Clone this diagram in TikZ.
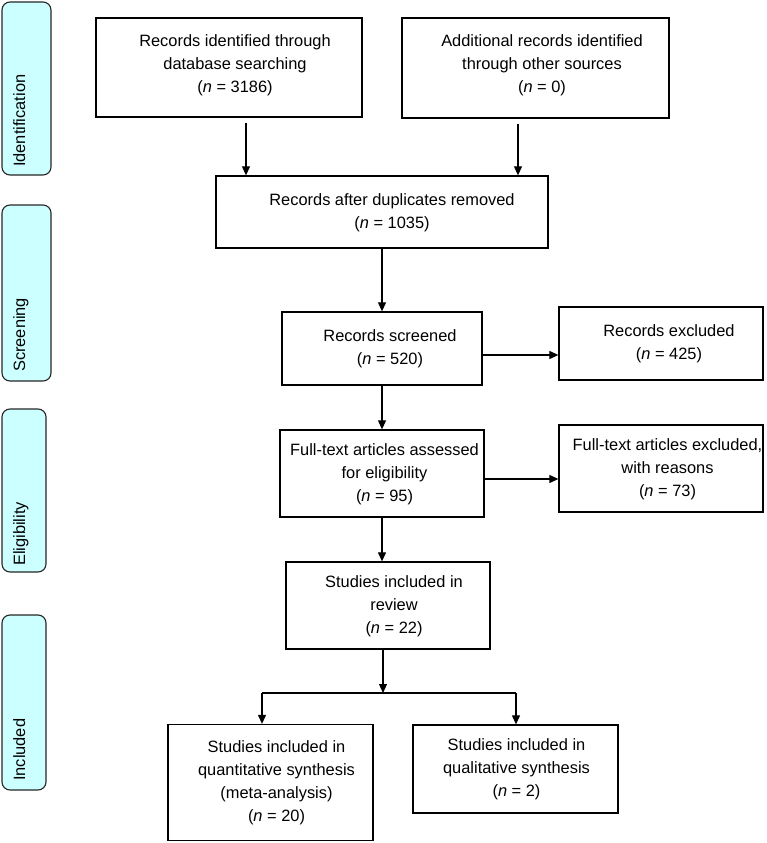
\documentclass[tikz,border=0pt]{standalone}
\usepackage{fontspec}
\setmainfont{Liberation Sans}
\usetikzlibrary{arrows.meta}
\definecolor{sidefill}{RGB}{204,255,255}
\newcommand{\bxt}[2][12pt]{\begin{tabular}{@{\hspace{#1}}c@{}}#2\end{tabular}}
\begin{document}
\begin{tikzpicture}[x=1pt,y=-1pt,
  box/.style={draw=black, line width=1.3pt, inner sep=0pt,
    font=\fontsize{16.4}{23}\selectfont},
  side/.style={draw=black!85, line width=1.1pt, fill=sidefill, rounded corners=8pt, inner sep=0pt},
  sidetext/.style={rotate=90, anchor=base west, inner sep=0pt,
    font=\fontsize{16.4}{20}\selectfont},
  arr/.style={line width=1.1pt, -{Triangle[length=9pt,width=8pt]}},
  ln/.style={line width=1.1pt}]
\useasboundingbox (0,0) rectangle (767,843);

% side phase labels
\node[side, minimum width=49pt, minimum height=173pt] (sid) at (26.5,88.5) {};
\node[side, minimum width=49pt, minimum height=176pt] (sscr) at (26.5,293) {};
\node[side, minimum width=44pt, minimum height=163pt] (selg) at (24,490.5) {};
\node[side, minimum width=44pt, minimum height=175pt] (sinc) at (24,702.5) {};
\node[sidetext] (tid) at (25,167) {Identification};
\node[sidetext] (tscr) at (25,372) {Screening};
\node[sidetext] (telg) at (25,566) {Eligibility};
\node[sidetext] (tinc) at (25,781) {Included};

% boxes
\node[box, minimum width=266pt, minimum height=99pt] (b1) at (229,67.5)
  {\bxt{Records identified through\\database searching\\(\textit{n} = 3186)\\[6pt]}};
\node[box, minimum width=267pt, minimum height=100pt] (b2) at (535.5,68)
  {\bxt[13pt]{Additional records identified\\through other sources\\(\textit{n} = 0)\\[6pt]}};
\node[box, minimum width=332pt, minimum height=72pt] (b3) at (382,212)
  {\bxt[20pt]{Records after duplicates removed\\(\textit{n} = 1035)}};
\node[box, minimum width=200pt, minimum height=73pt] (b4) at (382,348.5)
  {\bxt[16pt]{Records screened\\(\textit{n} = 520)}};
\node[box, minimum width=204pt, minimum height=73pt] (b5) at (661,343.5)
  {\bxt[16pt]{Records excluded\\(\textit{n} = 425)}};
\node[box, minimum width=204pt, minimum height=87pt] (b6) at (382,473.5)
  {\bxt[5pt]{Full-text articles assessed\\for eligibility\\(\textit{n} = 95)}};
\node[box, minimum width=204pt, minimum height=87pt] (b7) at (661,468.5)
  {\bxt[13pt]{Full-text articles excluded,\\with reasons\\(\textit{n} = 73)}};
\node[box, minimum width=204pt, minimum height=87pt] (b8) at (388,605.5)
  {\bxt{Studies included in\\review\\(\textit{n} = 22)}};
\node[box, minimum width=205pt, minimum height=116pt] (b9) at (270.5,782.5)
  {\bxt{Studies included in\\quantitative synthesis\\(meta-analysis)\\(\textit{n} = 20)}};
\node[box, minimum width=205pt, minimum height=88pt] (b10) at (515.5,769)
  {\bxt[2pt]{Studies included in\\qualitative synthesis\\(\textit{n} = 2)}};

% connectors
\coordinate (a1) at ([xshift=17pt,yshift=-5pt]b1.south);
\coordinate (a2) at ([xshift=-17.5pt,yshift=-5pt]b2.south);
\draw[arr] (a1) -- (a1 |- b3.north);
\draw[arr] (a2) -- (a2 |- b3.north);
\draw[arr] (b3.south) -- (b4.north);
\coordinate (a4) at ([yshift=-6.5pt]b4.east);
\draw[arr] (a4) -- (a4 -| b5.west);
\draw[arr] (b4.south) -- (b6.north);
\coordinate (a6) at ([yshift=-5.5pt]b6.east);
\draw[arr] (a6) -- (a6 -| b7.west);
\draw[arr] (b6.south) -- (b6.south |- b8.north);
\coordinate (j) at (383,693);
\coordinate (jl) at (262,693);
\coordinate (jr) at (516,693);
\draw[arr] (b8.south -| j) -- (j);
\draw[ln] (jl) -- (jr);
\draw[arr] (jl) -- (jl |- b9.north);
\draw[arr] (jr) -- (jr |- b10.north);
\end{tikzpicture}
\end{document}
